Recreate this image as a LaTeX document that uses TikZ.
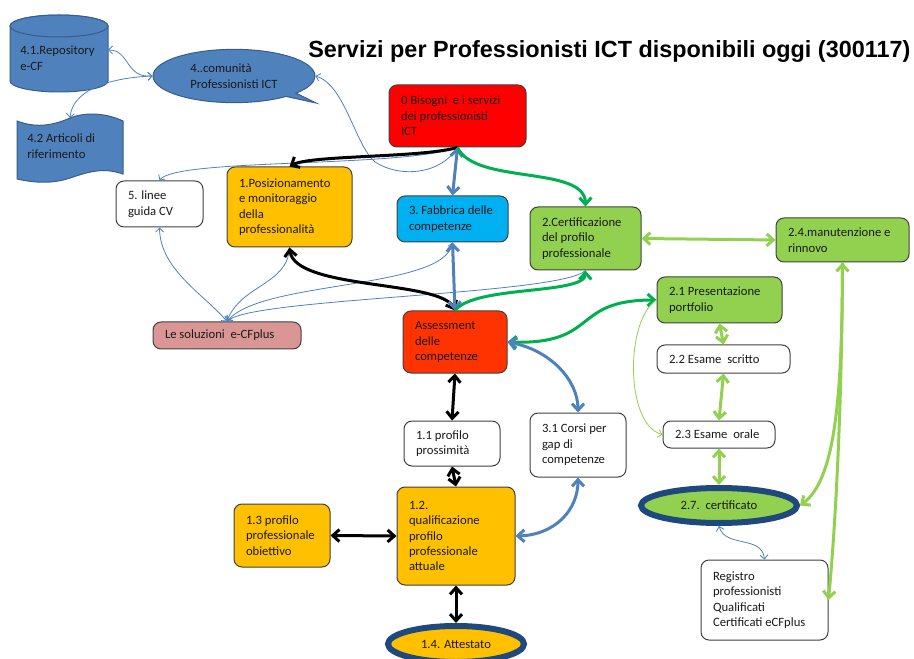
\documentclass[tikz,border=0pt]{standalone}
\usepackage{fontspec}
\setmainfont{Carlito}
\newfontfamily\ttlfont{Liberation Sans}
\usetikzlibrary{arrows.meta,shapes.geometric,shapes.callouts}
\definecolor{cblue}{HTML}{4F81BD}
\definecolor{cbluedark}{HTML}{385D8A}
\definecolor{cred}{HTML}{FF0000}
\definecolor{corange}{HTML}{FFC000}
\definecolor{ccyan}{HTML}{00B0F0}
\definecolor{cgreen}{HTML}{92D050}
\definecolor{cassess}{HTML}{FF3300}
\definecolor{cpink}{HTML}{DA9694}
\definecolor{cnavy}{HTML}{1F497D}
\definecolor{cdgreen}{HTML}{00B050}
\definecolor{boxline}{HTML}{404040}
\definecolor{txt}{HTML}{1A1A1A}
\tikzset{
  bx/.style={draw=boxline, line width=0.75pt, rounded corners=6pt, align=flush left,
    inner xsep=9pt, inner ysep=2pt, text=txt, font=\fontsize{9.5}{11.6}\selectfont},
  ell/.style={ellipse, draw=cnavy, line width=4.5pt, inner sep=0pt, text=txt,
    font=\fontsize{9.5}{11.6}\selectfont},
  bshape/.style={fill=cblue, draw=cbluedark, line width=0.75pt},
  thinb/.style={draw=cblue, line width=0.6pt, >={Straight Barb[length=3pt,width=6pt]}},
  thinlg/.style={draw=cgreen, line width=0.6pt, >={Straight Barb[length=3pt,width=6pt]}},
  tb/.style={draw=cblue, line width=2.25pt, >={Straight Barb[length=5pt,width=9pt]}},
  tk/.style={draw=black, line width=2.25pt, >={Straight Barb[length=5pt,width=9pt]}},
  tg/.style={draw=cdgreen, line width=2.25pt, >={Straight Barb[length=5pt,width=9pt]}},
  tlg/.style={draw=cgreen, line width=2.25pt, >={Straight Barb[length=5pt,width=9pt]}},
}
\begin{document}
\begin{tikzpicture}[x=0.75pt,y=-0.75pt]
\useasboundingbox (0,0) rectangle (914,659);

% title
\node[anchor=west, inner sep=0pt, font=\ttlfont\bfseries\fontsize{17.55}{20}\selectfont] (title) at (308,52) {Servizi per Professionisti ICT disponibili oggi (300117)};

% 4.1 cylinder
\path[bshape] (10,26) -- (10,81) arc[start angle=180,end angle=360,x radius=36.75pt,y radius=8.25pt]
  -- (108,26) arc[start angle=0,end angle=180,x radius=36.75pt,y radius=8.25pt] -- cycle;
\path[bshape] (59,26) ellipse[x radius=36.75pt,y radius=8.25pt];
\node[anchor=west, inner sep=0pt, align=flush left, text=txt, font=\fontsize{9.5}{11.6}\selectfont] (rep) at (20,58) {4.1.Repository\\e-CF};
\coordinate (repE) at (108,50);

% 4.2 punched tape
\path[bshape] (17,121) .. controls (35,128) and (52,126) .. (70,118) .. controls (88,111) and (108,114) .. (123,121)
  -- (123,174) .. controls (103,167) and (88,172) .. (70,178) .. controls (52,184) and (35,183) .. (17,179) -- cycle;
\node[anchor=west, inner sep=0pt, align=flush left, text=txt, font=\fontsize{9.5}{11.6}\selectfont] (art) at (27,146) {4.2 Articoli di\\riferimento};
\coordinate (artN) at (70,118);

% 4 callout
\node[ellipse callout, bshape, minimum width=121.5pt, minimum height=40pt, inner sep=0pt,
  callout pointer arc=10, callout absolute pointer={(316,103)}, align=flush left, text=txt,
  font=\fontsize{9.5}{11.6}\selectfont] (com) at (234,76) {4..comunità\\Professionisti ICT};

% boxes
\node[bx, fill=cred, minimum width=102.75pt, minimum height=46.5pt, text width=84.75pt] (b0) at (457.5,116) {0 Bisogni\ \ e i servizi\\dei professionisti\\ICT};
\node[bx, fill=corange, minimum width=93.75pt, minimum height=60pt, text width=75.75pt] (p1) at (289.5,207) {1.Posizionamento\\e monitoraggio\\della\\professionalità};
\node[bx, fill=white, minimum width=65.25pt, minimum height=34.5pt, text width=47.25pt] (l5) at (159.5,204) {5. linee\\guida CV};
\node[bx, fill=ccyan, minimum width=83.25pt, minimum height=34.5pt, text width=65.25pt] (f3) at (452.5,219) {3.~Fabbrica~delle\\competenze};
\node[bx, fill=cgreen, minimum width=83.25pt, minimum height=47.25pt, text width=65.25pt] (c2) at (585.5,238.5) {2.Certificazione\\del profilo\\professionale};
\node[bx, fill=cgreen, minimum width=99.75pt, minimum height=33pt, text width=81.75pt] (m24) at (842.5,240) {2.4.manutenzione~e\\rinnovo};
\node[bx, fill=cpink, minimum width=111pt, minimum height=20.25pt, text width=93pt, inner xsep=8pt] (sol) at (227,335.5) {Le~soluzioni\ \ e-CFplus};
\node[bx, fill=cassess, minimum width=78pt, minimum height=46.5pt, text width=60pt] (ass) at (455,342) {Assessment\\delle\\competenze};
\node[bx, fill=cgreen, minimum width=93.75pt, minimum height=34.5pt, text width=75.75pt] (p21) at (719.5,300) {2.1~Presentazione\\portfolio};
\node[bx, fill=white, minimum width=99.75pt, minimum height=21pt, text width=81.75pt, inner xsep=8pt] (e22) at (723.5,359) {2.2~Esame\ \ scritto};
\node[bx, fill=white, minimum width=84pt, minimum height=20.25pt, text width=66pt] (e23) at (719,434.5) {2.3~Esame\ \ orale};
\node[bx, fill=white, minimum width=72pt, minimum height=33.75pt, text width=54pt] (p11) at (452,443.5) {1.1~profilo\\prossimità};
\node[bx, fill=white, minimum width=72pt, minimum height=48pt, text width=54pt] (c31) at (578,445) {3.1~Corsi~per\\gap di\\competenze};
\node[bx, fill=corange, minimum width=88.5pt, minimum height=73.5pt, text width=70.5pt] (q12) at (456,536) {1.2.\\qualificazione\\profilo\\professionale\\attuale};
\node[bx, fill=corange, minimum width=72pt, minimum height=47.25pt, text width=54pt] (o13) at (282,535.5) {1.3~profilo\\professionale\\obiettivo};
\node[bx, fill=white, minimum width=95.25pt, minimum height=60pt, text width=77.25pt] (reg) at (764.5,600) {Registro\\professionisti\\Qualificati\\Certificati~eCFplus};
\node[ell, fill=cgreen, minimum width=117pt, minimum height=26.25pt] (c27) at (719,505.5) {2.7.\ \ certificato};
\node[ell, fill=corange, minimum width=102pt, minimum height=27pt] (a14) at (456,644) {1.4. Attestato};

% connectors: blue shapes
\draw[thinb,<->] (com.west) .. controls (125,78) and (130,50) .. (repE);
\draw[thinb,<->] (com.west) .. controls (105,78) and (72,92) .. (artN);
\draw[thinb,->] (b0.south) .. controls (440,175) and (400,178) .. (375,162) .. controls (355,145) and (345,85) .. (com.east);

% from 0
\draw[thinb,->] (b0.south) .. controls (400,168) and (175,158) .. (l5.north);
\draw[tk,->] (b0.south) .. controls (420,158) and (310,155) .. (p1.north);
\draw[tb,<->] (b0.south) -- (f3.north);
\draw[tg,->] (b0.south) .. controls (475,185) and (585,165) .. (c2.north);

% le soluzioni
\draw[thinb,<->] (sol.north) .. controls (205,295) and (160,270) .. (l5.south);
\draw[thinb,<-] (sol.north) .. controls (240,285) and (288,285) .. (p1.south);
\draw[thinb,<->] (sol.north) .. controls (260,280) and (445,290) .. (f3.south);
\draw[thinb,<-] (sol.north) .. controls (250,298) and (560,295) .. (c2.south);

% assessment
\draw[tk,<->] (ass.north) .. controls (440,280) and (295,290) .. (p1.south);
\draw[tb,<->] (f3.south) -- (ass.north);
\draw[tg,->] (ass.north) .. controls (475,285) and (585,295) .. (c2.south);
\draw[tg,<->] (ass.east) .. controls (600,345) and (570,300) .. (p21.west);
\draw[tb,<->] (ass.east) .. controls (550,350) and (578,380) .. (c31.north);
\draw[tk,<->] (ass.south) -- (p11.north);
\draw[tk,<->] (p11.south) -- (q12.north);
\draw[tk,<->] (o13.east) -- (q12.west);
\draw[tk,<->] (q12.south) -- (a14.north);
\draw[tb,<->] (q12.east) .. controls (555,535) and (578,510) .. (c31.south);

% certificazione
\draw[tlg,<->] (c2.east) -- (m24.west);
\draw[tlg,<->] (p21.south) -- (e22.north);
\draw[tlg,<->] (e22.south) -- (e23.north);
\draw[tlg,<->] (e23.south) -- (c27.north);
\draw[thinlg,->] (p21.west) .. controls (625,320) and (625,425) .. (e23.west);
\draw[tlg,<->] (m24.south) .. controls (842,400) and (835,480) .. (c27.east);
\draw[tlg,->] (m24.south) .. controls (842,400) and (836,520) .. (reg.east);
\draw[thinb,<->] (c27.south) .. controls (725,548) and (762,535) .. (reg.north);
\end{tikzpicture}
\end{document}
